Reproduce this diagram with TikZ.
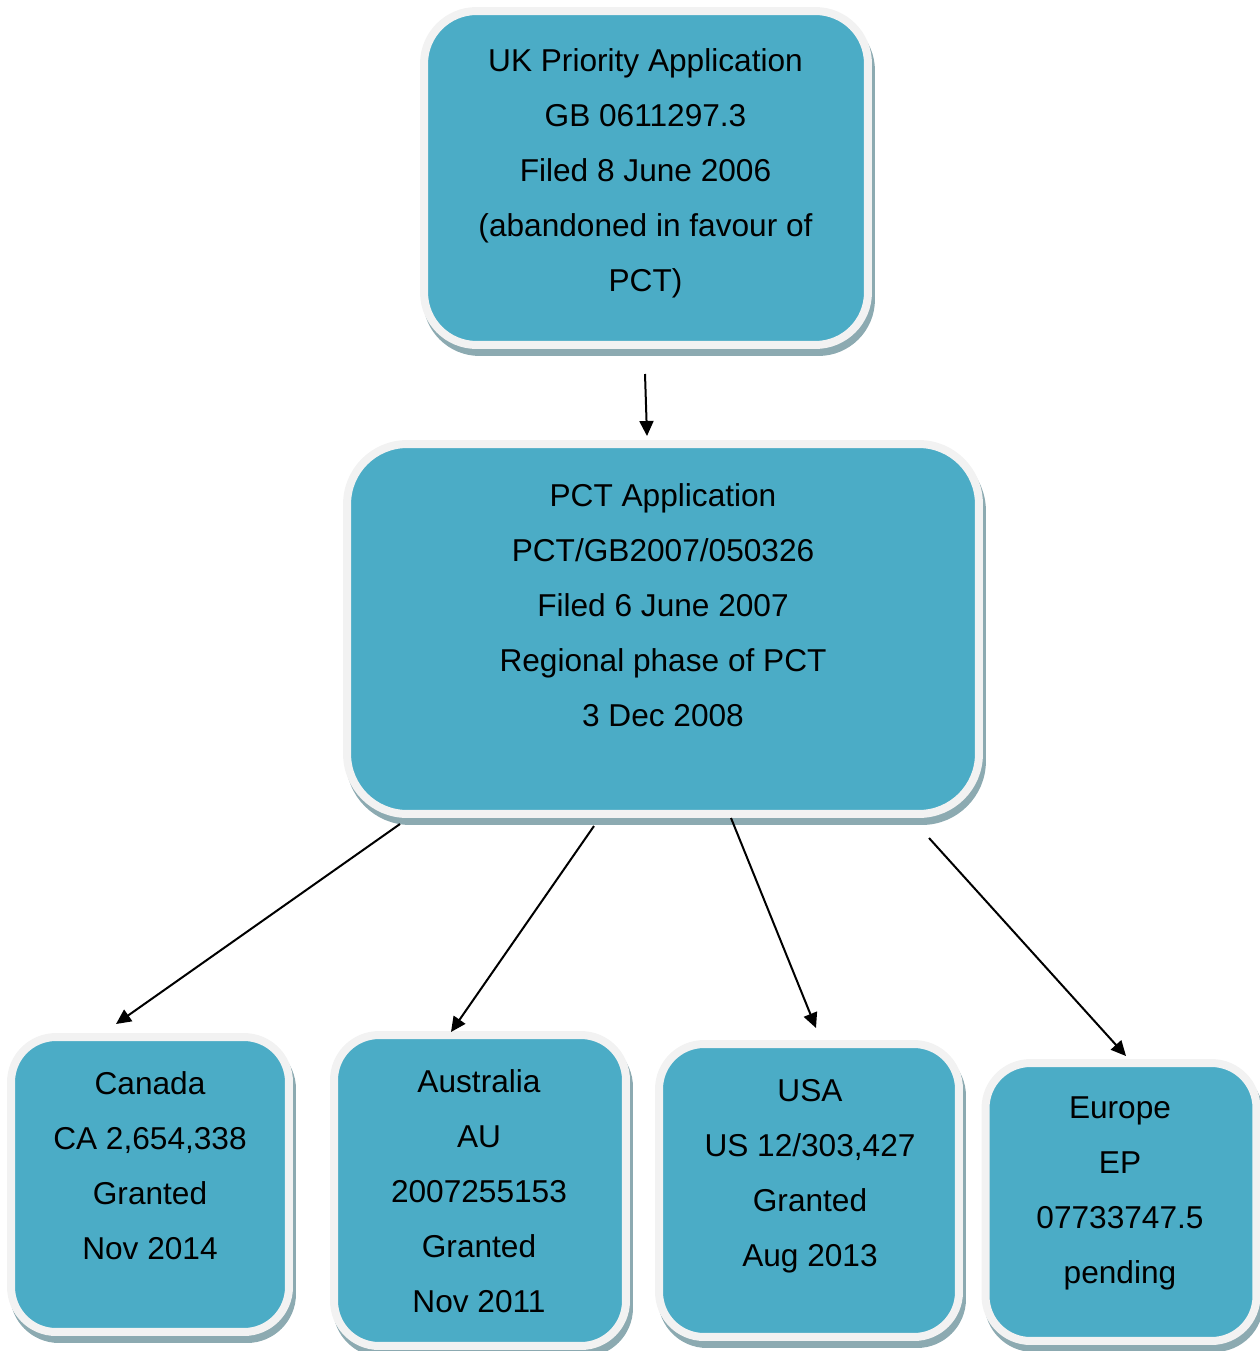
\documentclass[tikz,border=0pt]{standalone}
\usepackage{fontspec}
\setmainfont{Liberation Sans}
\usetikzlibrary{arrows.meta,shadows}
\definecolor{boxteal}{RGB}{75,172,198}
\definecolor{boxrim}{RGB}{242,242,242}
\definecolor{boxshade}{RGB}{140,170,177}

\begin{document}
\begin{tikzpicture}[x=0.02cm,y=-0.02cm,
	appbox/.style={draw=boxrim, line width=0.16cm, fill=boxteal, rounded corners=0.9cm, outer sep=0pt, inner sep=0pt,
		drop shadow={shadow xshift=0.06cm, shadow yshift=-0.14cm, fill=boxshade, draw=boxshade, line width=0.16cm, opacity=1}},
	apptext/.style={anchor=north, align=center, inner sep=0pt, font=\fontsize{18}{31.3}\selectfont},
	flow/.style={line width=0.04cm, -{Triangle[length=0.3cm,width=0.28cm]}}]
	\useasboundingbox (0,0) rectangle (1259,1351);
	\node (uk) at (646,178)[appbox, rounded corners=1.05cm, minimum width=8.88cm, minimum height=6.68cm] {};
	\node (pct) at (663,629)[appbox, rounded corners=1.2cm, minimum width=12.64cm, minimum height=7.4cm] {};
	\node (ca) at (150,1184.5)[appbox, minimum width=5.56cm, minimum height=5.9cm] {};
	\node (au) at (480,1190.5)[appbox, minimum width=5.84cm, minimum height=6.22cm] {};
	\node (us) at (809,1190.5)[appbox, minimum width=6cm, minimum height=5.86cm] {};
	\node (ep) at (1121,1202)[appbox, minimum width=5.42cm, minimum height=5.56cm] {};
	\node (uk-text) at (645.5,48.6)[apptext] {UK Priority Application\\GB 0611297.3\\Filed 8 June 2006\\(abandoned in favour of\\PCT)};
	\node (pct-text) at (663,483.6)[apptext] {PCT Application\\PCT/GB2007/050326\\Filed 6 June 2007\\Regional phase of PCT\\3 Dec 2008};
	\node (ca-text) at (150,1071.6)[apptext] {Canada\\CA 2,654,338\\Granted\\Nov 2014};
	\node (au-text) at (479,1069.6)[apptext] {Australia\\AU\\2007255153\\Granted\\Nov 2011};
	\node (us-text) at (810,1078.6)[apptext] {USA\\US 12/303,427\\Granted\\Aug 2013};
	\node (ep-text) at (1120,1096.6)[apptext] {Europe\\EP\\07733747.5\\pending};
	\coordinate (uk-out) at (645,374);
	\coordinate (pct-in) at (647,436);
	\coordinate (ca-out) at (400,824);
	\coordinate (ca-in) at (116,1024);
	\coordinate (au-out) at (594,826);
	\coordinate (au-in) at (451,1032);
	\coordinate (us-out) at (731,818);
	\coordinate (us-in) at (816,1028);
	\coordinate (ep-out) at (929,838);
	\coordinate (ep-in) at (1126,1056);
	\draw[flow] (uk-out) -- (pct-in);
	\draw[flow] (ca-out) -- (ca-in);
	\draw[flow] (au-out) -- (au-in);
	\draw[flow] (us-out) -- (us-in);
	\draw[flow] (ep-out) -- (ep-in);
\end{tikzpicture}
\end{document}
